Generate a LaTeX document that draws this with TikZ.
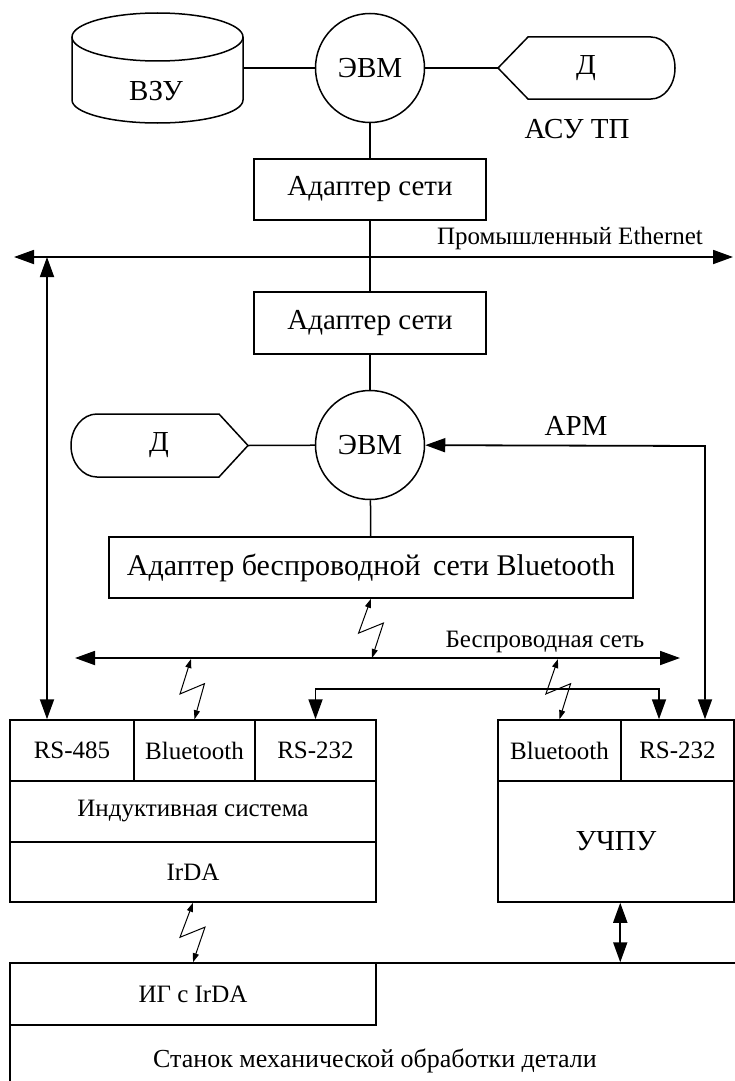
\documentclass[tikz,border=0pt]{standalone}
\usepackage{fontspec}
\setmainfont{Liberation Serif}
\usetikzlibrary{arrows.meta,calc}

\newcommand{\szA}{\fontsize{29}{32}\selectfont}
\newcommand{\szB}{\fontsize{25}{28}\selectfont}

\tikzset{
  cell/.style={draw, line width=1.5pt, inner sep=0pt, font=\szB},
  adapter/.style={draw, line width=1.5pt, inner sep=0pt, font=\szA},
  evm/.style={draw, circle, line width=1.5pt, minimum size=109pt, inner sep=0pt, font=\szA},
  link/.style={line width=1.5pt},
  bus/.style={line width=1.8pt, {Triangle[length=20pt,width=14pt]}-{Triangle[length=20pt,width=14pt]}},
  zap/.style={line width=1pt, {Triangle[length=9pt,width=6pt]}-{Triangle[length=9pt,width=6pt]},
    to path={-- ($(\tikztostart)!0.58!(\tikztotarget)+(-13,0)$)
             -- ($(\tikztostart)!0.41!(\tikztotarget)+(12,0)$) -- (\tikztotarget)}},
}

\begin{document}
\begin{tikzpicture}[x=1pt,y=1pt]
\useasboundingbox (0,0) rectangle (735,-1081);
\clip (0,0) rectangle (735,-1081);

% upper level: computer with storage and display
\node[evm] (evm1) at (370,-68) {ЭВМ};
\draw[link] (72,-37) -- (72,-100) arc[start angle=180,end angle=360,x radius=85.5,y radius=23] -- (243,-37);
\draw[link] (157.5,-37) ellipse[x radius=85.5,y radius=24];
\node[font=\szA] (vzu) at (156,-91) {ВЗУ};
\coordinate (vzuR) at (243,-68);
\draw[link] (vzuR) -- (evm1);

\coordinate (d1tip) at (498,-68);
\draw[link] (d1tip) -- (528,-37) -- (651,-37) arc[start angle=90,end angle=-90,x radius=24,y radius=31] -- (528,-99) -- cycle;
\node[font=\szA] (d1) at (586,-68) {Д};
\draw[link] (evm1) -- (d1tip);
\node[font=\szA] (asutp) at (577,-129) {АСУ ТП};

\node[adapter, minimum width=232pt, minimum height=61pt] (adapt1) at (370,-189.5) {Адаптер сети};
\draw[link] (evm1) -- (adapt1);

% ethernet
\coordinate (eth-l) at (14,-257);
\coordinate (eth-r) at (733,-257);
\draw[bus] (eth-l) -- (eth-r);
\node[font=\szB] (ethlbl) at (570,-238) {Промышленный Ethernet};

\node[adapter, minimum width=232pt, minimum height=62pt] (adapt2) at (370,-323) {Адаптер сети};
\draw[link] (adapt1) -- (adapt2);

% workstation
\node[evm] (evm2) at (370,-445) {ЭВМ};
\draw[link] (adapt2) -- (evm2);
\coordinate (d2tip) at (248,-445.5);
\draw[link] (d2tip) -- (219,-414) -- (97,-414) arc[start angle=90,end angle=270,x radius=26,y radius=31.5] -- (219,-477) -- cycle;
\node[font=\szA] (d2) at (159,-445.5) {Д};
\draw[link] (evm2) -- (d2tip);
\node[font=\szA] (apmlbl) at (576,-426) {АРМ};

\node[adapter, font=\fontsize{30}{33}\selectfont, minimum width=524pt, minimum height=61pt] (bt) at (371,-567.5) {Адаптер беспроводной\, сети Bluetooth};
\draw[link] (evm2) -- (bt);

% wireless network
\coordinate (wl-l) at (75,-658);
\coordinate (wl-r) at (680,-658);
\draw[bus] (wl-l) -- (wl-r);
\node[font=\szB] (wllbl) at (545,-642) {Беспроводная сеть};

% inductive system
\node[cell, minimum width=124pt, minimum height=61pt] (rs485) at (72,-750.5) {RS-485};
\node[cell, minimum width=121pt, minimum height=61pt] (bt1) at (194.5,-750.5) {Bluetooth};
\node[cell, minimum width=121pt, minimum height=61pt] (rs232a) at (315.5,-750.5) {RS-232};
\node[cell, minimum width=366pt, minimum height=61pt] (ind) at (193,-811.5) {Индуктивная система};
\node[cell, minimum width=366pt, minimum height=60pt] (irda) at (193,-872) {IrDA};

% CNC
\node[cell, minimum width=123pt, minimum height=61pt] (bt2) at (559.5,-750.5) {Bluetooth};
\node[cell, minimum width=113pt, minimum height=61pt] (rs232b) at (677.5,-750.5) {RS-232};
\node[cell, font=\szA, minimum width=236pt, minimum height=121pt] (chpu) at (616,-841.5) {УЧПУ};

% machine tool
\node[cell, minimum width=366pt, minimum height=62pt] (ig) at (193,-994) {ИГ с IrDA};
\draw[link] (10,-1090) -- (10,-963) -- (745,-963);
\node[font=\fontsize{26}{29}\selectfont] (stanok) at (375,-1061) {Станок механической обработки детали};

% connections
\coordinate (eth-a) at (47,-257);
\draw[bus] (eth-a) -- (eth-a |- rs485.north);
\coordinate (apm) at (705,-446);
\draw[bus] (apm |- rs232b.north) -- (apm) -- (evm2);
\coordinate (rsbus) at (659,-689);
\draw[bus] (rs232a.north) |- (rsbus) -- (rsbus |- rs232b.north);
\draw[bus] (chpu.south -| rs232b.west) -- (rs232b.west |- ig.north);

\coordinate (z1) at (372,-658);
\coordinate (z2) at (191,-659);
\coordinate (z3) at (558,-659);
\draw[zap] (bt.south) to (z1);
\draw[zap] (z2) to (bt1.north);
\draw[zap] (z3) to (bt2.north);
\draw[zap] (irda.south) to (ig.north);
\end{tikzpicture}
\end{document}
